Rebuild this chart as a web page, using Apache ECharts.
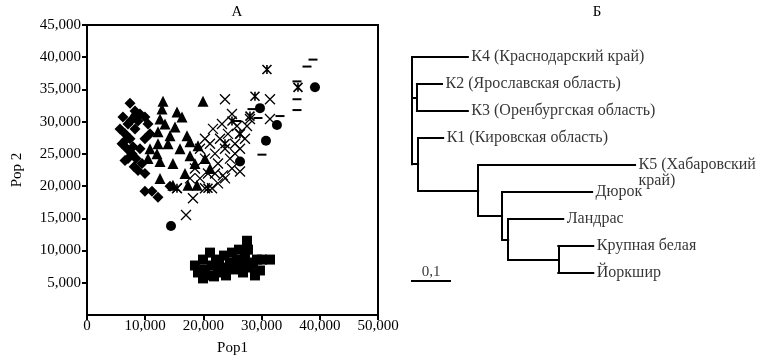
<!DOCTYPE html>
<html>
<head>
<meta charset="utf-8">
<script src="https://cdn.jsdelivr.net/npm/echarts@6/dist/echarts.min.js"></script>
<style>html,body{margin:0;padding:0;background:#fff}#c{width:768px;height:361px}</style>
</head>
<body>
<div id="c"></div>
<script>
// ---------- Panel A data (Pop1, Pop2) ----------
const xTicks = [0, 10000, 20000, 30000, 40000, 50000];
const yTicks = [0, 5000, 10000, 15000, 20000, 25000, 30000, 35000, 40000, 45000];

const diamonds = [
  [7390,32870],[6180,30720],[7040,29640],[8250,31640],[9110,31180],[6530,28110],[6010,26570],
  [7390,27340],[8250,28880],[8760,30110],[9960,30720],[10480,29640],[6870,25800],[7730,25040],
  [7040,24270],[8420,24270],[9110,25800],[9960,27340],[10820,28110],[6530,23960],[8760,22430],
  [9960,21960],[9960,19200],[11170,19200],[12200,18280],[14260,19970],[5670,28880],[7900,26110],
  [9450,23500],[7560,30200],[6700,27200],[8100,23000]
];
const triangles = [
  [13060,33180],[12890,31950],[15460,31490],[16320,30720],[19930,33180],[12540,30410],[12200,28420],
  [14260,27800],[12200,26570],[13920,26570],[17180,27800],[17700,26880],[19070,26270],[12030,25040],
  [12540,23810],[14770,23500],[17700,24730],[18550,23500],[12540,21200],[14770,20120],[17350,20120],
  [18900,20120],[10480,24270],[10820,25800],[13400,29640],[15120,29180],[15980,25800],[20270,24270],
  [21130,22730],[16840,21960]
];
const crosses = [
  [23710,33480],[31440,33480],[24910,31180],[25770,29340],[27490,29340],[26290,28110],[31440,30410],
  [26290,25800],[26290,22270],[23360,21660],[15460,19660],[18210,18120],[17010,15510],[20270,19660],
  [21480,19660],[23710,21200],[19410,25800],[20270,24270],[21130,26570],[21990,25040],[22850,27340],
  [23710,25800],[24570,24270],[22510,23500],[20790,21960],[19410,21200],[24220,28110],[25430,26570],
  [21650,28880],[23190,29640],[27140,27340],[18550,22730],[24910,22730],[22510,20430],[28000,30410],
  [20270,27340],[21990,21960],[25430,25040],[17700,21200]
];
const asterisks = [
  [30920,38090],[28860,33950],[36250,35330],[28000,30870],[24910,30100],[26290,28110],[15460,19660],
  [20790,19660],[23710,26570]
];
const circles = [
  [39170,35330],[32640,29490],[30750,27030],[26290,23810],[29720,32100],[14430,13820],[8250,30720]
];
const dashes = [
  [38830,39630],[37800,38550],[36080,36250],[36080,33480],[36080,31800],[33160,30870],[29380,30570],
  [28350,31950],[30060,24880],[25770,30100]
];
const squares = [
  [18550,7680],[19070,6600],[19930,8600],[20270,7070],[20790,6140],[21130,9680],[21480,7680],
  [22160,8600],[22510,6600],[23190,7370],[23540,9220],[23880,6140],[24570,8140],[24910,9680],
  [25430,7070],[25770,8600],[26290,7680],[26800,6600],[27140,8910],[27490,11520],[27660,10140],
  [28000,7370],[28520,8140],[28860,6140],[29210,8600],[30060,8600],[31440,8600],[21820,5990],
  [24220,7220],[27320,7680],[19930,5680],[29720,6910],[26110,10140],[22680,8290]
];

// ---------- Panel Б data (tree) ----------
const treeNodes   = ['root','K4','K23','K2','K3','N1','K1','N2','K5','N3','D','N4','L','N5','KB','Y'];
const treeParents = [null,'root','root','K23','K23','root','N1','N1','N2','N2','N3','N3','N4','N4','N5','N5'];
const branchLengths = [0,0.147,0.013,0.066,0.134,0.016,0.066,0.158,0.413,0.063,0.237,0.016,0.145,0.132,0.092,0.092];
const leafLabels = {
  K4: 'К4 (Краснодарский край)',
  K2: 'К2 (Ярославская область)',
  K3: 'К3 (Оренбургская область)',
  K1: 'К1 (Кировская область)',
  K5: 'К5 (Хабаровский\nкрай)',
  D: 'Дюрок',
  L: 'Ландрас',
  KB: 'Крупная белая',
  Y: 'Йоркшир'
};
const scaleBarValue = 0.1;
const scaleBarLabel = '0,1';

// ---------- build tree geometry ----------
const children = {};
const lenOf = {};
treeNodes.forEach((n, i) => { children[n] = []; lenOf[n] = branchLengths[i]; });
treeNodes.forEach((n, i) => { if (treeParents[i]) children[treeParents[i]].push(n); });
const posX = {}, posY = {};
let leafIdx = 0;
function layout(n, base) {
  posX[n] = base + lenOf[n];
  if (children[n].length === 0) { posY[n] = leafIdx++; return; }
  children[n].forEach(c => layout(c, posX[n]));
  const ch = children[n];
  posY[n] = (posY[ch[0]] + posY[ch[ch.length - 1]]) / 2;
}
layout('root', 0);
const segs = [];
treeNodes.forEach(n => {
  const ch = children[n];
  if (ch.length) {
    segs.push({coords: [[posX[n], posY[ch[0]]], [posX[n], posY[ch[ch.length - 1]]]]});
    ch.forEach(c => segs.push({coords: [[posX[n], posY[c]], [posX[c], posY[c]]]}));
  }
});
const barY = leafIdx - 1 + 0.3;
segs.push({coords: [[0, barY], [scaleBarValue, barY]]});

const leafPoints = treeNodes.filter(n => children[n].length === 0).map(n => {
  const item = {value: [posX[n], posY[n]], name: leafLabels[n]};
  if (n === 'K5') item.label = {verticalAlign: 'top', offset: [0, -8]};
  return item;
});

const FONT = 'Liberation Serif';
const fmt = v => v === 0 ? '0' : v.toLocaleString('en-US');

const chart = echarts.init(document.getElementById('c'), null, {renderer: 'canvas'});
const symScatter = (data, symbol, size, style) => ({
  type: 'scatter', xAxisIndex: 0, yAxisIndex: 0, data, symbol, symbolSize: size,
  itemStyle: Object.assign({opacity: 1}, style), silent: true, animation: false
});
const XPATH = 'path://M0,0L10,10M10,0L0,10';
const APATH = 'path://M0,0L10,10M10,0L0,10M5,0L5,10';

chart.setOption({
  animation: false,
  backgroundColor: '#fff',
  textStyle: {fontFamily: FONT, color: '#000'},
  title: [
    {text: 'А', left: 232, top: 0, textAlign: 'center', textStyle: {fontFamily: FONT, fontSize: 15, fontWeight: 'normal', color: '#000'}},
    {text: 'Б', left: 592, top: 0, textAlign: 'center', textStyle: {fontFamily: FONT, fontSize: 15, fontWeight: 'normal', color: '#000'}}
  ],
  grid: [
    {left: 87, top: 25, width: 291, height: 293, show: true, borderColor: '#000', borderWidth: 2, backgroundColor: 'transparent'},
    {left: 412, top: 30, width: 228, height: 270}
  ],
  xAxis: [
    {type: 'value', gridIndex: 0, min: xTicks[0], max: xTicks[xTicks.length - 1], interval: 10000,
     name: 'Pop1', nameLocation: 'middle', nameGap: 26,
     nameTextStyle: {fontFamily: FONT, fontSize: 15, color: '#000'},
     axisLine: {lineStyle: {color: '#000', width: 2}},
     axisTick: {inside: false, length: 5, lineStyle: {color: '#000', width: 2}},
     axisLabel: {fontFamily: FONT, fontSize: 15, color: '#000', margin: 4, formatter: fmt},
     splitLine: {show: false}},
    {type: 'value', gridIndex: 1, min: 0, max: 0.6, show: false}
  ],
  yAxis: [
    {type: 'value', gridIndex: 0, min: yTicks[0], max: yTicks[yTicks.length - 1], interval: 5000,
     name: 'Pop 2', nameLocation: 'middle', nameGap: 62, nameRotate: 90,
     nameTextStyle: {fontFamily: FONT, fontSize: 15, color: '#000'},
     axisLine: {lineStyle: {color: '#000', width: 2}},
     axisTick: {inside: false, length: 5, lineStyle: {color: '#000', width: 2}},
     axisLabel: {fontFamily: FONT, fontSize: 15, color: '#000', margin: 6, formatter: fmt, showMinLabel: false},
     splitLine: {show: false}},
    {type: 'value', gridIndex: 1, min: -1, max: 9, inverse: true, show: false}
  ],
  series: [
    symScatter(diamonds, 'diamond', 11, {color: '#000'}),
    symScatter(triangles, 'triangle', 11, {color: '#000'}),
    symScatter(squares, 'rect', 10, {color: '#000'}),
    symScatter(circles, 'circle', 10, {color: '#000'}),
    symScatter(dashes, 'rect', [9, 2], {color: '#000'}),
    symScatter(crosses, XPATH, 10, {color: 'none', borderColor: '#000', borderWidth: 1.3}),
    symScatter(asterisks, APATH, 9, {color: 'none', borderColor: '#000', borderWidth: 1.6}),
    {type: 'lines', coordinateSystem: 'cartesian2d', xAxisIndex: 1, yAxisIndex: 1, data: segs,
     lineStyle: {color: '#000', width: 2, opacity: 1, cap: 'square'}, silent: true, animation: false},
    {type: 'scatter', xAxisIndex: 1, yAxisIndex: 1, data: leafPoints, symbolSize: 1,
     itemStyle: {color: 'rgba(0,0,0,0)'}, silent: true,
     label: {show: true, position: 'right', distance: 3, formatter: p => p.name,
             fontFamily: FONT, fontSize: 16, color: '#000', lineHeight: 16}},
    {type: 'scatter', xAxisIndex: 1, yAxisIndex: 1, data: [{value: [scaleBarValue / 2, barY], name: scaleBarLabel}],
     symbolSize: 1, itemStyle: {color: 'rgba(0,0,0,0)'}, silent: true,
     label: {show: true, position: 'top', distance: 1, formatter: p => p.name,
             fontFamily: FONT, fontSize: 15, color: '#000'}}
  ]
});
</script>
</body>
</html>
